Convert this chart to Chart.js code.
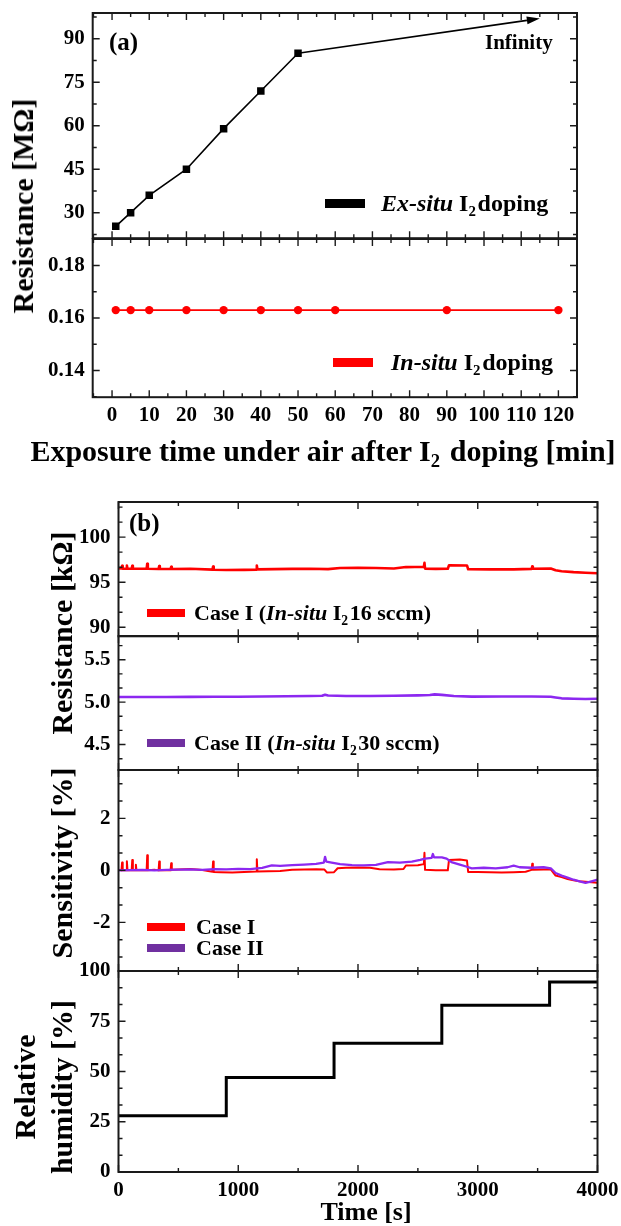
<!DOCTYPE html>
<html>
<head>
<meta charset="utf-8">
<script src="https://cdn.jsdelivr.net/npm/chart.js@4.4.1/dist/chart.umd.min.js"></script>
<style>
html, body { margin: 0; padding: 0; background: #fff; overflow: hidden; width: 621px; height: 1226px; }
body { position: relative; font-family: 'Liberation Serif', 'Times New Roman', serif; font-weight: bold; color: #000; }
canvas { position: absolute; left: 0; }
.t { position: absolute; white-space: nowrap; line-height: 1; z-index: 2; }
.sw { position: absolute; z-index: 2; }
.sub { font-size: 0.62em; position: relative; top: 0.35em; margin-right: 0.12em; }
</style>
</head>
<body>

<!-- panel (a) texts -->
<div class="t" style="left:109px;top:41px;font-size:25px;transform:translateY(-50%)">(a)</div>
<div class="t" style="left:485px;top:41.5px;font-size:21px;transform:translateY(-50%)">Infinity</div>
<div class="sw" style="left:325px;top:198.5px;width:40px;height:9px;background:#000"></div>
<div class="t" style="left:381px;top:203px;font-size:24px;transform:translateY(-50%)"><i>Ex-situ</i> I<span class="sub">2</span>doping</div>
<div class="sw" style="left:333px;top:357.5px;width:40px;height:9px;background:#ff0000"></div>
<div class="t" style="left:391px;top:362px;font-size:24px;transform:translateY(-50%)"><i>In-situ</i> I<span class="sub">2</span>doping</div>
<div class="t" style="left:23px;top:206px;font-size:30px;transform:translate(-50%,-50%) rotate(-90deg)">Resistance [MΩ]</div>
<div class="t" style="left:323px;top:450.5px;font-size:30px;transform:translate(-50%,-50%)">Exposure time under air after I<span class="sub">2</span> doping [min]</div>

<!-- panel (b) texts -->
<div class="t" style="left:129px;top:522px;font-size:25px;transform:translateY(-50%)">(b)</div>
<div class="sw" style="left:147px;top:609px;width:38px;height:8px;background:#ff0000"></div>
<div class="t" style="left:194px;top:613px;font-size:22px;transform:translateY(-50%)">Case I (<i>In-situ</i> I<span class="sub">2</span>16 sccm)</div>
<div class="sw" style="left:147px;top:739px;width:38px;height:8px;background:#7030a0"></div>
<div class="t" style="left:194px;top:743px;font-size:22px;transform:translateY(-50%)">Case II (<i>In-situ</i> I<span class="sub">2</span>30 sccm)</div>
<div class="sw" style="left:147px;top:923px;width:38px;height:8px;background:#ff0000"></div>
<div class="t" style="left:196px;top:927px;font-size:22px;transform:translateY(-50%)">Case I</div>
<div class="sw" style="left:147px;top:944px;width:38px;height:8px;background:#7030a0"></div>
<div class="t" style="left:196px;top:948px;font-size:22px;transform:translateY(-50%)">Case II</div>
<div class="t" style="left:61.5px;top:633px;font-size:30px;transform:translate(-50%,-50%) rotate(-90deg)">Resistance [kΩ]</div>
<div class="t" style="left:61.5px;top:863px;font-size:30px;transform:translate(-50%,-50%) rotate(-90deg)">Sensitivity [%]</div>
<div class="t" style="left:25px;top:1087px;font-size:30px;transform:translate(-50%,-50%) rotate(-90deg)">Relative</div>
<div class="t" style="left:61.5px;top:1087px;font-size:30px;transform:translate(-50%,-50%) rotate(-90deg)">humidity [%]</div>
<div class="t" style="left:366px;top:1211.5px;font-size:26px;transform:translate(-50%,-50%)">Time [s]</div>

<script>
// ---- panel (a): resistance vs exposure time ----
const exTime = [1, 5, 10, 20, 30, 40, 50];
const exRes = [25.3, 30, 36, 45, 59, 72, 85];
const inTime = [1, 5, 10, 20, 30, 40, 50, 60, 90, 120];
const inRes = [0.163, 0.163, 0.163, 0.163, 0.163, 0.163, 0.163, 0.163, 0.163, 0.163];
const arrowFrom = [50, 85];
const arrowTo = [115, 97];

// ---- panel (b): time series [t (s), value] ----
const resCaseI = [[0,96.55],[25,96.52],[30,96.82],[35,96.5],[65,96.5],[70,96.85],[75,96.5],[110,96.5],[115,96.82],[120,96.5],
  [235,96.5],[240,97.05],[245,96.5],[335,96.47],[340,96.8],[345,96.47],[435,96.46],[440,96.72],[445,96.47],[600,96.5],
  [785,96.4],[790,96.75],[795,96.38],[900,96.36],[1050,96.37],[1150,96.4],[1155,96.85],[1160,96.42],[1300,96.45],[1450,96.48],
  [1600,96.5],[1750,96.45],[1850,96.58],[2000,96.6],[2150,96.57],[2300,96.52],[2400,96.68],[2550,96.72],[2555,97.15],[2560,96.5],
  [2650,96.48],[2750,96.5],[2760,96.88],[2910,96.86],[2920,96.44],[3100,96.42],[3300,96.43],[3450,96.48],[3455,96.75],[3460,96.5],
  [3610,96.52],[3650,96.32],[3700,96.22],[3800,96.12],[3900,96.05],[4000,96.0]];
const resCaseII = [[0,5.06],[200,5.06],[400,5.06],[600,5.062],[800,5.063],[1000,5.063],[1200,5.067],[1400,5.07],[1600,5.072],[1700,5.075],
  [1725,5.088],[1750,5.078],[1900,5.072],[2100,5.072],[2300,5.076],[2500,5.08],[2600,5.084],[2640,5.092],[2700,5.086],[2800,5.072],
  [2950,5.065],[3200,5.066],[3450,5.066],[3610,5.064],[3650,5.055],[3700,5.045],[3800,5.04],[3900,5.038],[4000,5.04]];
const sensCaseI = [[0,0.02],[25,0],[30,0.3],[35,0],[65,0],[70,0.35],[75,0],[110,0],[115,0.4],[120,0],
  [140,0],[145,0.22],[150,0],[200,0.01],[235,0],[240,0.58],[245,0],[300,0.02],[335,0],[340,0.34],
  [345,0],[400,0.01],[435,0],[440,0.27],[445,0.02],[500,0.03],[600,0.05],[700,0.01],[785,-0.05],[790,0.34],
  [795,-0.06],[850,-0.07],[950,-0.08],[1050,-0.06],[1150,-0.04],[1155,0.43],[1160,-0.04],[1250,-0.03],[1350,-0.02],[1450,0.02],
  [1550,0.03],[1650,0.04],[1720,0.03],[1740,-0.08],[1800,-0.07],[1830,0.08],[1900,0.1],[2000,0.11],[2100,0.1],[2180,0.04],
  [2300,0.03],[2380,0.05],[2400,0.19],[2500,0.2],[2550,0.24],[2555,0.68],[2560,0.02],[2650,0],[2750,0],[2760,0.4],
  [2850,0.42],[2910,0.38],[2920,-0.06],[3000,-0.06],[3100,-0.07],[3200,-0.08],[3300,-0.07],[3400,-0.05],[3450,0.02],[3455,0.25],
  [3460,0.02],[3550,0.03],[3610,0.04],[3650,-0.2],[3700,-0.26],[3750,-0.33],[3800,-0.38],[3850,-0.42],[3900,-0.44],[3950,-0.46],[4000,-0.48]];
const sensCaseII = [[0,0],[100,0.01],[200,0.02],[300,0],[400,0.02],[500,0.03],[600,0.04],[700,0.02],[800,0.05],[900,0.04],
  [1000,0.06],[1100,0.05],[1200,0.1],[1280,0.19],[1350,0.17],[1450,0.2],[1550,0.22],[1650,0.25],[1715,0.3],[1725,0.52],
  [1735,0.34],[1780,0.3],[1850,0.24],[1950,0.2],[2050,0.19],[2150,0.21],[2250,0.32],[2350,0.3],[2450,0.34],[2520,0.4],
  [2560,0.45],[2615,0.48],[2625,0.63],[2635,0.5],[2700,0.5],[2740,0.45],[2780,0.32],[2850,0.22],[2910,0.14],[2950,0.08],
  [3050,0.1],[3150,0.08],[3250,0.12],[3300,0.18],[3350,0.12],[3450,0.1],[3550,0.12],[3610,0.08],[3650,-0.1],[3700,-0.2],
  [3750,-0.28],[3800,-0.36],[3850,-0.42],[3900,-0.48],[3950,-0.42],[4000,-0.36]];
const rhTime = [0, 900, 1800, 2700, 3600, 4000];
const rhValue = [28, 47, 64, 83, 94.5, 94.5];

// ---- tick labels ----
const aXMajor = [0, 10, 20, 30, 40, 50, 60, 70, 80, 90, 100, 110, 120];
const aTopYMajor = [30, 45, 60, 75, 90];
const aBotYMajor = [0.14, 0.16, 0.18];
const bXMajor = [0, 1000, 2000, 3000, 4000];
const r1Major = [90, 95, 100];
const r2Major = [4.5, 5.0, 5.5];
const sensMajor = [-2, 0, 2];
const rhMajor = [0, 25, 50, 75, 100];

const RED = '#ff0000';
const PURPLE = '#8c28f0';
const tickFont = { family: 'Liberation Serif', size: 21, weight: 'bold' };

function makeTicks(majors, nMinor, min, max) {
    const sub = (majors[1] - majors[0]) / (nMinor + 1);
    const k0 = Math.ceil((min - majors[0]) / sub - 1e-6);
    const k1 = Math.floor((max - majors[0]) / sub + 1e-6);
    const out = [];
    for (let k = k0; k <= k1; k++) {
        const v = majors[0] + k * sub;
        out.push({ value: v, major: majors.some(m => Math.abs(m - v) < sub * 1e-3) });
    }
    return out;
}

function fmt(v, dec) {
    if (Math.abs(v) < 1e-9) v = 0;
    return v.toFixed(dec);
}

function framePlugin(xt, yt) {
    return {
        id: 'frame',
        afterDatasetsDraw(chart) {
            const { ctx, chartArea: a, scales: { x, y } } = chart;
            ctx.save();
            ctx.strokeStyle = '#1a1a1a';
            ctx.lineWidth = 1.4;
            ctx.beginPath();
            xt.forEach(t => {
                const p = x.getPixelForValue(t.value);
                const L = t.major ? 7 : 4;
                ctx.moveTo(p, a.bottom); ctx.lineTo(p, a.bottom - L);
                ctx.moveTo(p, a.top); ctx.lineTo(p, a.top + L);
            });
            yt.forEach(t => {
                const p = y.getPixelForValue(t.value);
                const L = t.major ? 7 : 4;
                ctx.moveTo(a.left, p); ctx.lineTo(a.left + L, p);
                ctx.moveTo(a.right, p); ctx.lineTo(a.right - L, p);
            });
            ctx.stroke();
            ctx.lineWidth = 2;
            ctx.strokeRect(a.left, a.top, a.right - a.left, a.bottom - a.top);
            ctx.restore();
        }
    };
}

const arrowPlugin = {
    id: 'arrow',
    afterDatasetsDraw(chart) {
        const { ctx, scales: { x, y } } = chart;
        const x0 = x.getPixelForValue(arrowFrom[0]), y0 = y.getPixelForValue(arrowFrom[1]);
        const x1 = x.getPixelForValue(arrowTo[0]), y1 = y.getPixelForValue(arrowTo[1]);
        const ang = Math.atan2(y1 - y0, x1 - x0);
        const hl = 13, hw = 4;
        ctx.save();
        ctx.strokeStyle = '#000';
        ctx.fillStyle = '#000';
        ctx.lineWidth = 1.6;
        ctx.beginPath();
        ctx.moveTo(x0, y0);
        ctx.lineTo(x1 - hl * Math.cos(ang), y1 - hl * Math.sin(ang));
        ctx.stroke();
        ctx.beginPath();
        ctx.moveTo(x1, y1);
        ctx.lineTo(x1 - hl * Math.cos(ang) + hw * Math.sin(ang), y1 - hl * Math.sin(ang) - hw * Math.cos(ang));
        ctx.lineTo(x1 - hl * Math.cos(ang) - hw * Math.sin(ang), y1 - hl * Math.sin(ang) + hw * Math.cos(ang));
        ctx.closePath();
        ctx.fill();
        ctx.restore();
    }
};

function addChart(box, datasets, xa, ya, extra) {
    const W = 660, padTop = 40, padBot = 80, yW = 90;
    const xH = xa.labels ? 40 : 0;
    const h = Math.round(box.bottom - box.top + padTop + padBot);
    const cv = document.createElement('canvas');
    cv.width = W; cv.height = h;
    cv.style.width = W + 'px'; cv.style.height = h + 'px';
    cv.style.top = (box.top - padTop) + 'px';
    document.body.appendChild(cv);
    const padBottom = h - padTop - (box.bottom - box.top) - xH;
    new Chart(cv, {
        type: 'line',
        data: { datasets: datasets },
        options: {
            responsive: false,
            animation: false,
            events: [],
            layout: { padding: { left: box.left - yW, right: W - box.right, top: padTop, bottom: padBottom } },
            plugins: { legend: { display: false }, tooltip: { enabled: false } },
            scales: {
                x: {
                    type: 'linear', min: xa.min, max: xa.max, display: !!xa.labels,
                    grid: { display: false, drawTicks: false }, border: { display: false },
                    afterBuildTicks: s => { s.ticks = xa.ticks.map(t => ({ ...t })); },
                    afterFit: s => { s.height = xH; },
                    ticks: {
                        autoSkip: false, maxRotation: 0, minRotation: 0, padding: 6, color: '#000', font: tickFont,
                        callback: (v, i, t) => t[i].major ? fmt(v, xa.dec) : ''
                    }
                },
                y: {
                    type: 'linear', min: ya.min, max: ya.max,
                    grid: { display: false, drawTicks: false }, border: { display: false },
                    afterBuildTicks: s => { s.ticks = ya.ticks.map(t => ({ ...t })); },
                    afterFit: s => { s.width = yW; },
                    ticks: {
                        autoSkip: false, padding: 8, color: '#000', font: tickFont,
                        callback: (v, i, t) => t[i].major ? fmt(v, ya.dec) : ''
                    }
                }
            }
        },
        plugins: [framePlugin(xa.ticks, ya.ticks)].concat(extra || [])
    });
}

const pairs = arr => arr.map(p => ({ x: p[0], y: p[1] }));
const noisy = (data, color, w) => ({
    data: pairs(data), borderColor: color, borderWidth: w, pointRadius: 0, tension: 0,
    borderJoinStyle: 'round', borderCapStyle: 'round'
});

// ---- panel (a) ----
const aX = { min: -5.2, max: 125, dec: 0, ticks: makeTicks(aXMajor, 1, -5.2, 125) };
const aBoxL = 92.7, aBoxR = 577;

addChart({ left: aBoxL, right: aBoxR, top: 13.3, bottom: 238.5 }, [{
    data: exTime.map((t, i) => ({ x: t, y: exRes[i] })),
    borderColor: '#000', borderWidth: 1.6, tension: 0,
    pointStyle: 'rect', pointRadius: 5.3, pointBackgroundColor: '#000', pointBorderWidth: 0
}], { ...aX, labels: false }, { min: 21.2, max: 98.9, dec: 0, ticks: makeTicks(aTopYMajor, 1, 21.2, 98.9) }, [arrowPlugin]);

addChart({ left: aBoxL, right: aBoxR, top: 238.5, bottom: 396.7 }, [{
    data: inTime.map((t, i) => ({ x: t, y: inRes[i] })),
    borderColor: RED, borderWidth: 1.6, tension: 0,
    pointStyle: 'circle', pointRadius: 4.2, pointBackgroundColor: RED, pointBorderWidth: 0
}], { ...aX, labels: true }, { min: 0.1298, max: 0.1901, dec: 2, ticks: makeTicks(aBotYMajor, 1, 0.1298, 0.1901) });

// ---- panel (b) ----
const bX = { min: 0, max: 4000, dec: 0, ticks: makeTicks(bXMajor, 1, 0, 4000) };
const bL = 118.5, bR = 597.5;

addChart({ left: bL, right: bR, top: 501.7, bottom: 636 }, [noisy(resCaseI, RED, 2.6)],
    { ...bX, labels: false }, { min: 89, max: 103.9, dec: 0, ticks: makeTicks(r1Major, 2, 89, 103.9) });

addChart({ left: bL, right: bR, top: 636, bottom: 770 }, [noisy(resCaseII, PURPLE, 2.6)],
    { ...bX, labels: false }, { min: 4.2, max: 5.78, dec: 1, ticks: makeTicks(r2Major, 2, 4.2, 5.78) });

addChart({ left: bL, right: bR, top: 770, bottom: 971 }, [noisy(sensCaseII, PURPLE, 2.3), noisy(sensCaseI, RED, 2)],
    { ...bX, labels: false }, { min: -3.87, max: 3.86, dec: 0, ticks: makeTicks(sensMajor, 2, -3.87, 3.86) });

addChart({ left: bL, right: bR, top: 971, bottom: 1172 }, [{
    data: rhTime.map((t, i) => ({ x: t, y: rhValue[i] })),
    borderColor: '#000', borderWidth: 3, pointRadius: 0, stepped: true
}], { ...bX, labels: true }, { min: 0, max: 100, dec: 0, ticks: makeTicks(rhMajor, 2, 0, 100) });
</script>
</body>
</html>
